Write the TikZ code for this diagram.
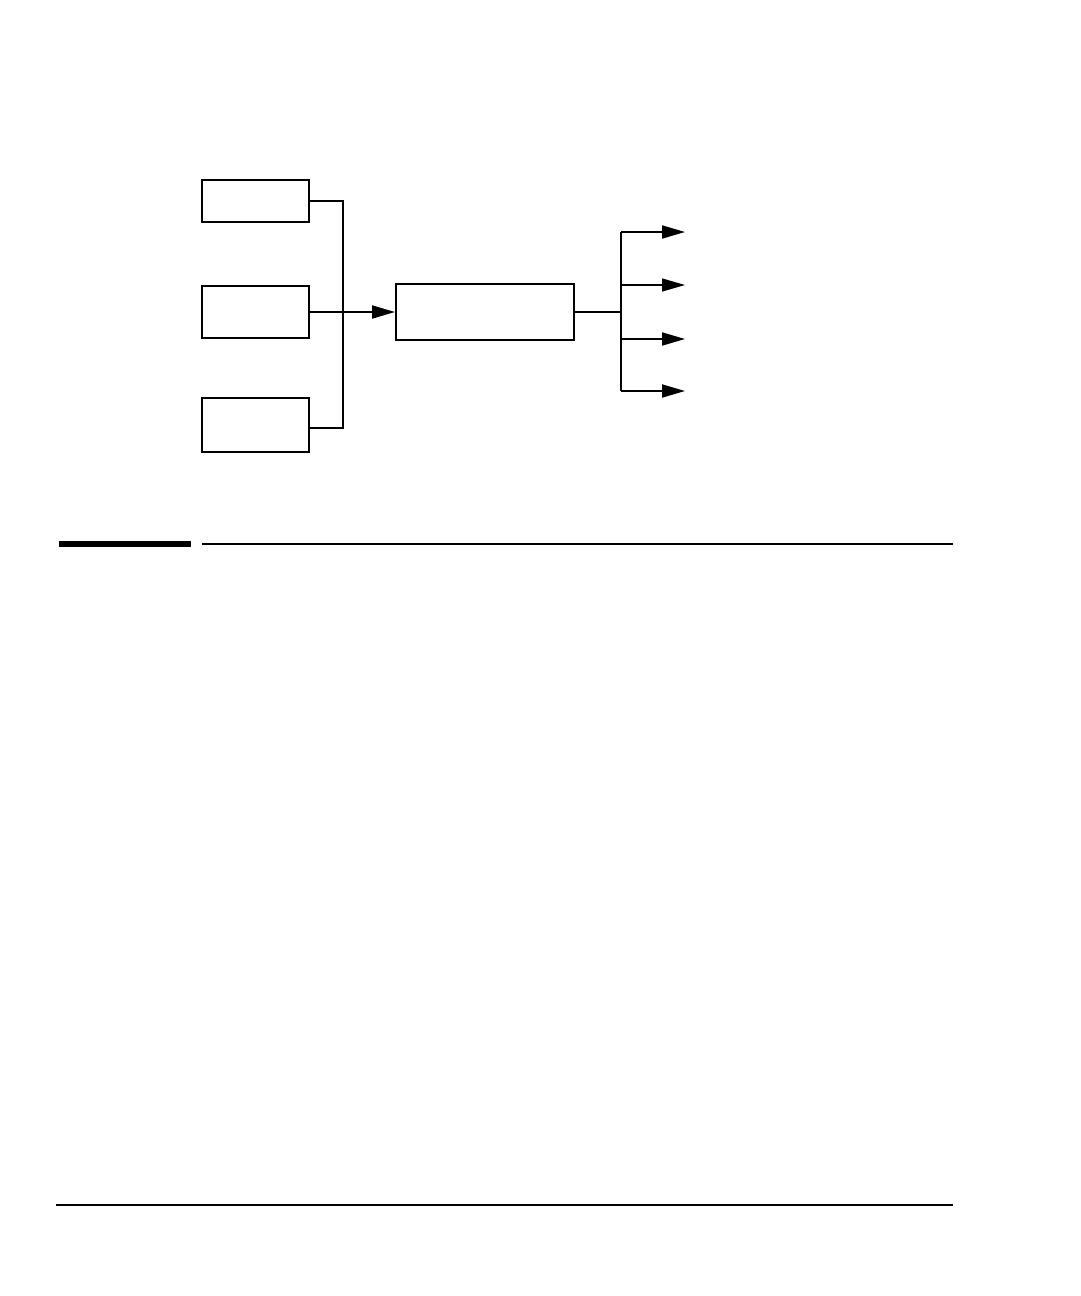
\documentclass[tikz,border=0pt]{standalone}
\usetikzlibrary{arrows.meta,calc,positioning}

\begin{document}
\begin{tikzpicture}[x=1pt,y=-1pt,>={Triangle[length=23pt,width=13pt]},line width=2pt,
  blk/.style={draw,inner sep=0pt,minimum width=107pt}]

\useasboundingbox (0,0) rectangle (1080,1296);

% Input blocks
\node[blk,minimum height=42pt] (srcA) at (255.5,201) {};
\node[blk,minimum height=52pt] (srcB) at (255.5,312) {};
\node[blk,minimum height=54pt] (srcC) at (255.5,425) {};

% Center block
\node[blk,minimum width=178pt,minimum height=56pt] (mux) at (485,312) {};

% Bus into center block
\coordinate (bus) at (343,428);
\draw (srcA.east) -| (bus) -- (bus -| srcC.east);
\draw[->] (srcB.east) -- (srcB.east -| mux.west);

% Fan out
\coordinate (fan) at (621,312);
\coordinate (out1) at (685,232);
\coordinate (out2) at (685,285);
\coordinate (out3) at (685,339);
\coordinate (out4) at (685,391);
\draw (mux.east) -- (mux.east -| fan);
\draw (fan |- out1) -- (fan |- out4);
\foreach \i/\w in {1/2pt,2/1.3pt,3/2pt,4/2pt}
  \draw[->,line width=\w] (fan |- out\i) -- (out\i);

% Rules
\draw[line width=6pt] (59,544) -- (191,544);
\draw[line width=2pt] (202,544) -- (953,544);
\draw[line width=1.5pt] (56,1205) -- (953,1205);

\end{tikzpicture}
\end{document}
